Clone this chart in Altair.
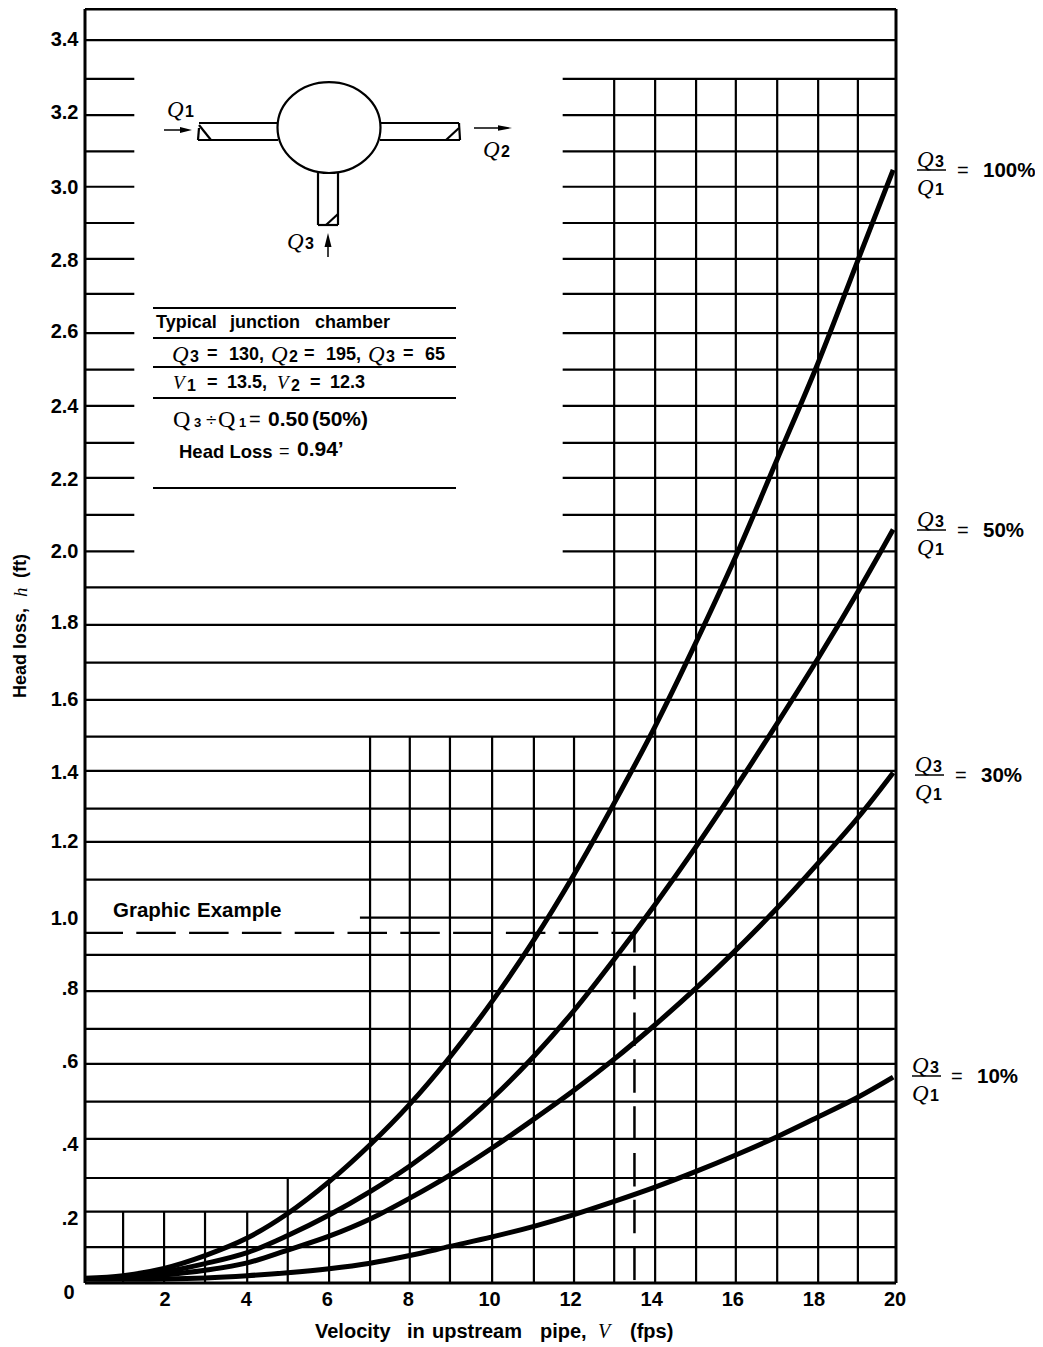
import altair as alt
import pandas as pd

# ---------- values ----------
V_POINTS = [0, .94, 1.95, 2.96, 4.0, 5.0, 6.02, 7.03, 8.01, 9.0, 10.04, 11.07, 12.06, 13.05, 14.06, 15.07, 16.05, 17.07, 18.08, 19.06, 19.93]
H_100 = [.013, .02, .04, .075, .123, .19, .277, .378, .489, .618, .77, .938, 1.117, 1.312, 1.522, 1.752, 1.987, 2.252, 2.516, 2.796, 3.043]
H_50 = [.012, .016, .03, .053, .083, .13, .186, .25, .32, .403, .505, .62, .745, .885, 1.035, 1.193, 1.355, 1.53, 1.708, 1.89, 2.06]
H_30 = [.012, .013, .022, .035, .055, .09, .128, .175, .232, .295, .369, .448, .527, .612, .706, .806, .91, 1.025, 1.148, 1.272, 1.395]
H_10 = [.01, .01, .011, .014, .02, .028, .039, .054, .075, .1, .126, .155, .187, .223, .262, .305, .35, .4, .454, .508, .563]
SERIES = {"100%": H_100, "50%": H_50, "30%": H_30, "10%": H_10}

FULL_LEVELS = [3.398, 1.902, 1.799, 1.696, 1.594, 1.494, 1.400, 1.297, 1.206, 1.103, .897, .798, .695, .599, .496, .394, .287, .195, .098]
BROKEN_LEVELS = [3.292, 3.193, 3.094, 2.997, 2.898, 2.800, 2.704, 2.597, 2.497, 2.398, 2.297, 2.201, 2.100, 2.000]
LEVEL_ONE = .999
VERT_GROUPS = [([.94, 1.95, 2.96, 4.0], .195), ([5.0, 6.02], .287),
               ([7.03, 8.01, 9.0, 10.04, 11.07, 12.06], 1.494),
               ([13.05, 14.06, 15.07, 16.05, 17.07, 18.08, 19.06], 3.292)]
Y_TICKS = [3.404, 3.204, 3.0, 2.8, 2.606, 2.4, 2.2, 2.005, 1.81, 1.6, 1.4, 1.21, 1.0, .81, .61, .383, .18]
X_TICKS = [2, 4, 6, 8, 10, 12, 14, 16, 18, 20]
EXAMPLE_V = 13.55
EXAMPLE_H = .957

XMAX, YMAX = 20, 3.483
X0, Y0, W, H = 85, 9, 811, 1274
SANS, SERIF = "Liberation Sans", "Liberation Serif"

xs = alt.Scale(domain=[0, XMAX], nice=False, zero=False)
ys = alt.Scale(domain=[0, YMAX], nice=False, zero=False)
xaxis = alt.Axis(values=X_TICKS, title=None, grid=False, ticks=False, domain=False,
                 labelFont=SANS, labelFontWeight="bold", labelFontSize=20, labelColor="black", labelPadding=6,
                 labelAngle=0, labelOverlap=False, labelFlush=False, labelOffset=-1.5)
yaxis = alt.Axis(values=Y_TICKS, title=None, grid=False, ticks=False, domain=False,
                 labelFont=SANS, labelFontWeight="bold", labelFontSize=20, labelColor="black", labelPadding=7,
                 labelOverlap=False, labelFlush=False, labelOffset=1.5,
                 labelExpr="datum.value >= 0.95 ? format(datum.value, '.1f') : '.' + format(round(datum.value * 10), 'd')")
X = lambda f: alt.X(f, scale=xs, axis=xaxis)
Y = lambda f: alt.Y(f, scale=ys, axis=yaxis)

layers = []
GW = 2.2

# grid
grid_rows = [dict(h=h, a=0, b=XMAX) for h in FULL_LEVELS]
grid_rows += [dict(h=LEVEL_ONE, a=6.78, b=XMAX)]
grid_rows += [dict(h=h, a=0, b=1.216) for h in BROKEN_LEVELS]
grid_rows += [dict(h=h, a=11.78, b=XMAX) for h in BROKEN_LEVELS]
layers.append(alt.Chart(pd.DataFrame(grid_rows)).mark_rule(color="black", strokeWidth=GW).encode(
    x=X("a:Q"), x2="b:Q", y=Y("h:Q")))
vert_rows = [dict(v=v, top=top, bot=0) for vals, top in VERT_GROUPS for v in vals]
layers.append(alt.Chart(pd.DataFrame(vert_rows)).mark_rule(color="black", strokeWidth=GW).encode(
    x=X("v:Q"), y=Y("bot:Q"), y2="top:Q"))

# dashed example
layers.append(alt.Chart(pd.DataFrame([dict(a=0, b=EXAMPLE_V, h=EXAMPLE_H)])).mark_rule(
    color="black", strokeWidth=GW, strokeDash=[39.5, 13.3], strokeDashOffset=1.5).encode(
    x=X("a:Q"), x2="b:Q", y=Y("h:Q")))
layers.append(alt.Chart(pd.DataFrame([dict(v=EXAMPLE_V, a=EXAMPLE_H, b=0)])).mark_rule(
    color="black", strokeWidth=2.5, strokeDash=[33.5, 13.3], strokeDashOffset=14).encode(
    x=X("v:Q"), y=Y("a:Q"), y2="b:Q"))

# curves
curve_rows = [dict(V=v, h=h, s=s) for s, vals in SERIES.items() for v, h in zip(V_POINTS, vals)]
layers.append(alt.Chart(pd.DataFrame(curve_rows)).mark_line(
    color="black", strokeWidth=5, interpolate="catmull-rom", strokeCap="butt").encode(
    x=X("V:Q"), y=Y("h:Q"), detail="s:N"))

# frame
layers.append(alt.Chart(pd.DataFrame([dict(v=0), dict(v=XMAX)])).mark_rule(color="black", strokeWidth=3).encode(
    x=X("v:Q"), y=alt.value(0), y2=alt.value(H)))
layers.append(alt.Chart(pd.DataFrame([dict(h=0), dict(h=YMAX)])).mark_rule(color="black", strokeWidth=3).encode(
    y=Y("h:Q"), x=alt.value(0), x2=alt.value(W)))

ONE = alt.Data(values=[{"a": 1}])


def seg(x1, y1, x2, y2, w=GW):
    layers.append(alt.Chart(ONE).mark_rule(color="black", strokeWidth=w).encode(
        x=alt.value(x1 - X0), y=alt.value(y1 - Y0), x2=alt.value(x2 - X0), y2=alt.value(y2 - Y0)))


def txt(x, y, s, size=18, font=SANS, weight="bold", style="normal", align="left", angle=0):
    layers.append(alt.Chart(ONE).mark_text(
        text=s, font=font, fontSize=size, fontWeight=weight, fontStyle=style, align=align, baseline="middle",
        angle=angle, color="black").encode(x=alt.value(x - X0), y=alt.value(y - Y0)))


def head(x, y, path, size):
    layers.append(alt.Chart(ONE).mark_point(shape=path, size=size, filled=True, fill="black", stroke="black",
                                            strokeWidth=0, opacity=1).encode(
        x=alt.value(x - X0), y=alt.value(y - Y0)))


def q(x, y, sub, size=23, sub_dx=18, style="italic", sub_size=16):
    txt(x, y, "Q", size=size, font=SERIF, weight="normal", style=style)
    txt(x + sub_dx, y + 2, sub, size=sub_size)


def v_sym(x, y, size=19):
    txt(x, y, "V", size, SERIF, "normal", "italic")


# axis odds and ends
txt(69, 1293, "0", size=20, align="center")
for x, word in [(315, "Velocity"), (407, "in"), (432, "upstream"), (540, "pipe,")]:
    txt(x, 1332, word, size=20)
v_sym(598, 1332, 20)
txt(630, 1332, "(fps)", size=20)
txt(21, 698, "Head", size=18, angle=270)
txt(21, 649, "loss,", size=18, angle=270)
txt(21, 597, "h", size=19, font=SERIF, weight="normal", style="italic", angle=270)
txt(21, 578, "(ft)", size=18, angle=270)

# inset diagram
for a in [(199, 123, 277, 123), (198, 140, 278, 140), (199, 125, 211, 140), (199, 128, 198, 140),
          (381, 123, 459, 123), (380, 140, 460, 140), (459, 128, 446, 140), (459, 123, 460, 140),
          (318, 173, 318, 225), (338, 173, 338, 225), (318, 225, 338, 225), (326, 225, 338, 214)]:
    seg(*a)
layers.append(alt.Chart(ONE).mark_point(
    shape="M-1,0 A1,0.883 0 1,1 1,0 A1,0.883 0 1,1 -1,0 Z", size=103 ** 2, filled=False, fill="white",
    stroke="black", strokeWidth=GW, opacity=1).encode(x=alt.value(329 - X0), y=alt.value(127.5 - Y0)))
seg(164, 130, 184, 130, 1.5)
head(186, 130, "M-1,-0.5 L1,0 L-1,0.5 Z", 144)
seg(474, 128, 500, 128, 1.5)
head(505, 128, "M-1,-0.4 L1,0 L-1,0.4 Z", 196)
seg(328, 257, 328, 243, 1.5)
head(328, 240, "M-0.5,1 L0,-1 L0.5,1 Z", 196)
q(167, 110, "1")
q(483, 150, "2")
q(287, 242, "3")

# inset table
for yy in [308, 338, 367, 398, 488]:
    seg(153, yy, 456, yy)
for x, word in [(156, "Typical"), (230, "junction"), (315, "chamber")]:
    txt(x, 323, word, 18)
YR = 355
q(172, YR, "3"); txt(207, YR - 1, "=", 18); txt(229, YR, "130,", 18)
q(271, YR, "2"); txt(304, YR - 1, "=", 18); txt(326, YR, "195,", 18)
q(368, YR, "3"); txt(403, YR - 1, "=", 18); txt(425, YR, "65", 18)
YR = 383
v_sym(173, YR); txt(187, YR + 3, "1", 16); txt(207, YR, "=", 18); txt(227, YR, "13.5,", 18)
v_sym(277, YR); txt(291, YR + 3, "2", 16); txt(310, YR, "=", 18); txt(330, YR, "12.3", 18)
YR = 420
txt(173, YR, "Q", 24, SERIF, "normal"); txt(194, YR + 3, "3", 13)
txt(206, YR, "÷", 19, SANS, "normal")
txt(218, YR, "Q", 24, SERIF, "normal"); txt(239, YR + 3, "1", 13)
txt(249, YR, "=", 20, SANS, "normal"); txt(268, YR, "0.50", 21); txt(312, YR, "(50%)", 21)
txt(179, 452, "Head Loss", 18.5); txt(279, 452, "=", 18, SANS, "normal"); txt(297, 450, "0.94’", 21)

txt(113, 911, "Graphic", 20.5)
txt(197, 911, "Example", 20.5)

# curve labels
for qx, yy, pct, px in [(917, 171, "100%", 983), (917, 531, "50%", 983), (915, 776, "30%", 981), (912, 1077, "10%", 977)]:
    q(qx, yy - 11, "3")
    seg(qx, yy - 1, qx + 29, yy - 1, 1.5)
    q(qx, yy + 17, "1")
    txt(px - 26, yy, "=", 20, SANS, "normal")
    txt(px, yy, pct, 20.5)

chart = alt.layer(*layers).properties(
    width=W, height=H, autosize="none",
    padding={"left": X0 - 8, "top": Y0 - 8, "right": 1035 - X0 - W, "bottom": 1342 - Y0 - H},
    background="white",
).configure_view(stroke=None)

chart.save("out.html", embed_options={"renderer": "svg", "actions": False})
